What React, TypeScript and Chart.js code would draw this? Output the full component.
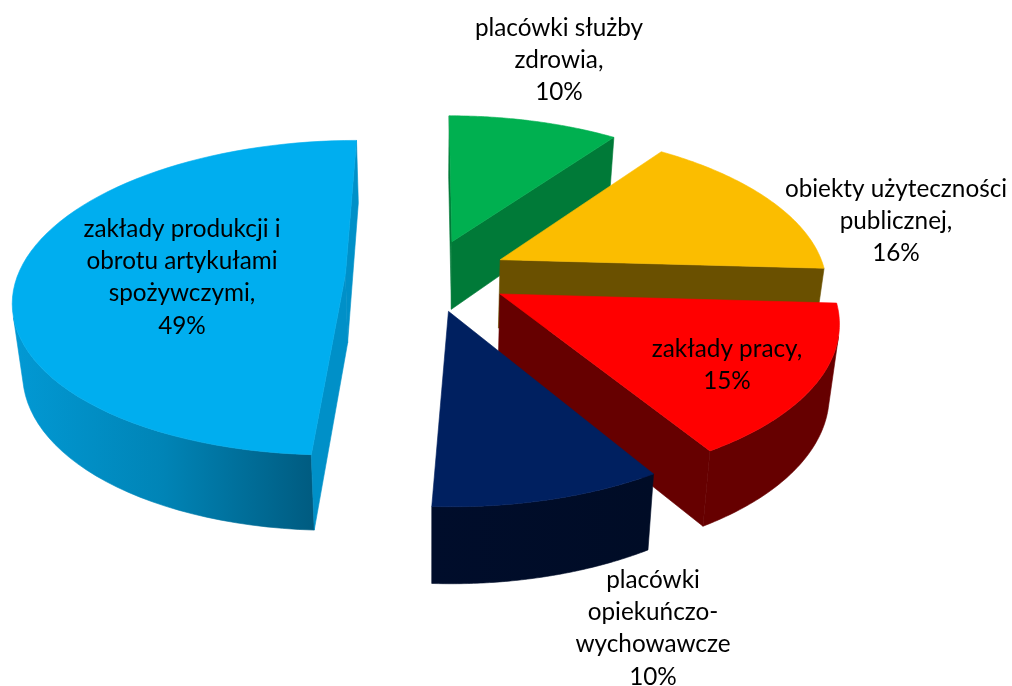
import React, { useEffect, useRef } from "react";
import { Chart, ArcElement, PieController } from "chart.js";

// ---- data ----
const categories: string[][] = [
  ["placówki służby", "zdrowia,"],
  ["obiekty użyteczności", "publicznej,"],
  ["zakłady pracy,"],
  ["placówki", "opiekuńczo-", "wychowawcze"],
  ["zakłady produkcji i", "obrotu artykułami", "spożywczymi,"],
];
// shares; the labels show them rounded
const values: number[] = [10, 15.9, 15.4, 9.5, 49.2];

// ---- styles ----
const topColors = ["#00B050", "#FBBD00", "#FF0000", "#002060", "#00AEEF"];
const wallColors = ["#007A38", "#6A5000", "#660000", "#000D2B", "#0090C8"];
const rimStops: string[][] = [
  ["#007A38", "#007A38"],
  ["#6A5000", "#6A5000"],
  ["#660000", "#660000"],
  ["#000D2B", "#000C26"],
  ["#0299D4", "#0084B6", "#005B80"],
];
const labelAnchors = [
  { x: 559, y: 28 },
  { x: 896, y: 189 },
  { x: 727, y: 349 },
  { x: 653, y: 580 },
  { x: 182, y: 229 },
];
const FONT = '24.3px Lato, "Open Sans", sans-serif';
const LINE_HEIGHT = 32.3;

// ---- perspective projection of the tilted pie plane ----
const CX = 430, CY = 275, SX = 326, SY = 154, PERSP = 0.15, EXPLODE = 0.235;
const sliceWidthScale = [0.99, 1.0, 1.005, 1.0, 1.005];
const sliceShiftPx = [-1, 2, 3, -1, -8];
const project = (u: number, v: number): [number, number] => {
  const w = 1 - PERSP * v;
  return [CX + (SX * u) / w, CY + (SY * v) / w];
};
const projectBottom = (u: number, v: number): [number, number] => {
  const [x, y] = project(u, v);
  return [CX + (x - CX) * 0.975, y + 69 + 6.5 * v];
};

const fillPoly = (ctx: CanvasRenderingContext2D, pts: [number, number][], style: any) => {
  ctx.beginPath();
  pts.forEach((p, i) => (i ? ctx.lineTo(p[0], p[1]) : ctx.moveTo(p[0], p[1])));
  ctx.closePath();
  ctx.fillStyle = style;
  ctx.fill();
  ctx.strokeStyle = style;
  ctx.lineWidth = 0.6;
  ctx.lineJoin = "round";
  ctx.stroke();
};
const quadArea = (q: [number, number][]) => {
  let s = 0;
  for (let i = 0; i < q.length; i++) {
    const a = q[i], b = q[(i + 1) % q.length];
    s += a[0] * b[1] - b[0] * a[1];
  }
  return s / 2;
};

class Arc3D extends ArcElement {
  static id = "arc3d";
  draw(ctx: CanvasRenderingContext2D) {
    const self: any = this;
    const { startAngle, endAngle } = self.getProps(["startAngle", "endAngle"], true);
    const index: number = self.$context.dataIndex;
    const mid = (startAngle + endAngle) / 2;
    const ax = EXPLODE * Math.cos(mid) + sliceShiftPx[index] / SX;
    const ay = EXPLODE * Math.sin(mid);
    const steps = 72;
    const rim: [number, number][] = [];
    for (let i = 0; i <= steps; i++) {
      const a = startAngle + ((endAngle - startAngle) * i) / steps;
      rim.push([ax + sliceWidthScale[index] * Math.cos(a), ay + Math.sin(a)]);
    }
    const top = (p: [number, number]) => project(p[0], p[1]);
    const bot = (p: [number, number]) => projectBottom(p[0], p[1]);
    const apex: [number, number] = [ax, ay];
    ctx.save();
    // curved wall: only segments that face the viewer
    const upper: [number, number][] = [];
    const lower: [number, number][] = [];
    for (let i = 0; i < steps; i++) {
      const q = [top(rim[i]), top(rim[i + 1]), bot(rim[i + 1]), bot(rim[i])];
      if (quadArea(q) < 0) {
        if (!upper.length) { upper.push(q[0]); lower.push(q[3]); }
        upper.push(q[1]);
        lower.push(q[2]);
      }
    }
    if (upper.length) {
      const xs = upper.concat(lower).map((p) => p[0]);
      const grad = ctx.createLinearGradient(Math.min(...xs), 0, Math.max(...xs), 0);
      const stops = rimStops[index];
      stops.forEach((c, i) => grad.addColorStop(i / (stops.length - 1), c));
      fillPoly(ctx, upper.concat(lower.reverse()), grad);
    }
    // radial walls
    const radial: [[number, number], [number, number]][] = [
      [apex, rim[0]],
      [rim[steps], apex],
    ];
    radial.forEach(([a, b]) => {
      const q = [top(a), top(b), bot(b), bot(a)];
      if (quadArea(q) < 0) fillPoly(ctx, q, wallColors[index]);
    });
    // top face
    fillPoly(ctx, [top(apex), ...rim.map(top)], self.options.backgroundColor);
    ctx.restore();
  }
}

class Pie3DController extends PieController {
  static id = "pie3d";
  static defaults = { dataElementType: "arc3d" };
}

Chart.register(ArcElement, PieController, Arc3D as any, Pie3DController as any);

const labelPlugin = {
  id: "sliceLabels",
  afterDatasetsDraw(chart: any) {
    const ctx: CanvasRenderingContext2D = chart.ctx;
    const data: number[] = chart.data.datasets[0].data;
    const total = data.reduce((a, b) => a + b, 0);
    ctx.save();
    ctx.font = FONT;
    ctx.fillStyle = "#000000";
    ctx.textAlign = "center";
    ctx.textBaseline = "middle";
    chart.data.labels.forEach((lines: string[], i: number) => {
      const all = [...lines, `${Math.round((data[i] * 100) / Math.round(total))}%`];
      all.forEach((t, j) => ctx.fillText(t, labelAnchors[i].x, labelAnchors[i].y + j * LINE_HEIGHT));
    });
    ctx.restore();
  },
};

export default function App() {
  const ref = useRef<HTMLCanvasElement>(null);
  useEffect(() => {
    document.body.style.margin = "0";
    document.body.style.background = "#ffffff";
    const chart = new Chart(ref.current as HTMLCanvasElement, {
      type: "pie3d" as any,
      data: {
        labels: categories as any,
        datasets: [{ data: values, backgroundColor: topColors, borderWidth: 0 }],
      },
      options: {
        responsive: false,
        maintainAspectRatio: false,
        animation: false,
        events: [],
        layout: { padding: 0 },
        plugins: { legend: { display: false }, tooltip: { enabled: false } },
      } as any,
      plugins: [labelPlugin],
    } as any);
    return () => chart.destroy();
  }, []);
  return <canvas ref={ref} width={1012} height={686} style={{ display: "block" }} />;
}
